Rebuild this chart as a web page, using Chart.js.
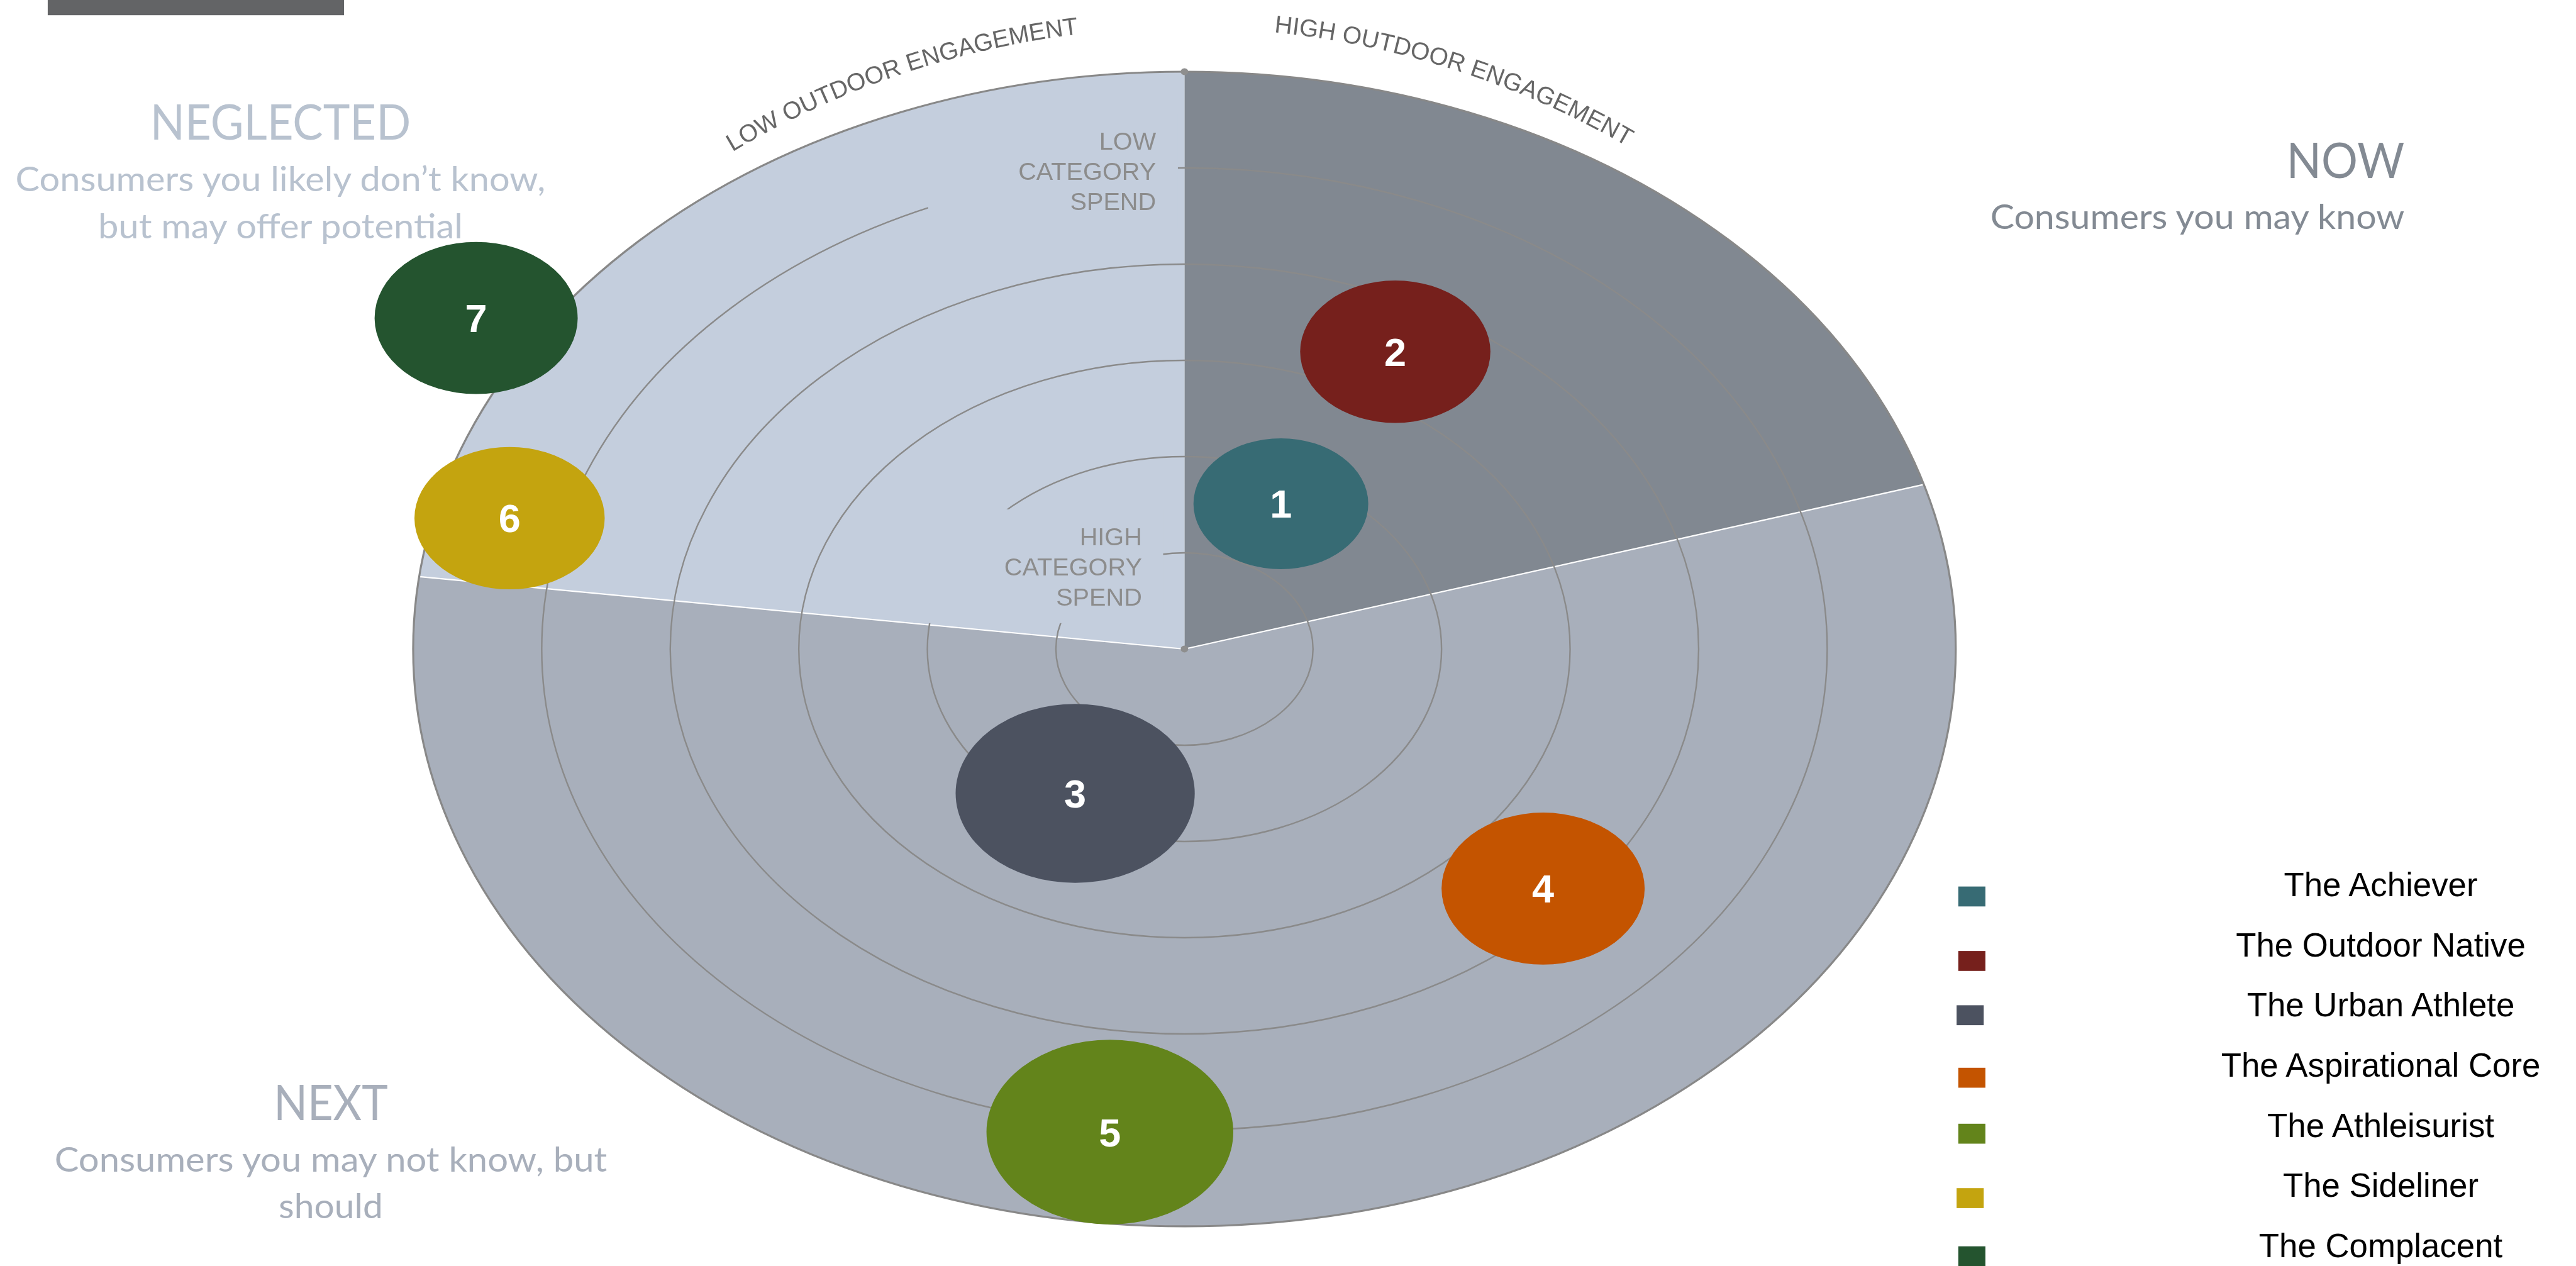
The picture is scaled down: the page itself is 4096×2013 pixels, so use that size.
<!DOCTYPE html>
<html>
<head>
<meta charset="utf-8">
<script src="https://cdn.jsdelivr.net/npm/chart.js@4.4.1/dist/chart.umd.min.js"></script>
<style>
  html, body { margin: 0; padding: 0; background: #ffffff; overflow: hidden; }
  #wrap { position: relative; width: 4096px; height: 2013px; }
  #c { position: absolute; left: 0; top: 0; }
  #ov { position: absolute; left: 0; top: 0; width: 4096px; height: 2013px; pointer-events: none; }
</style>
</head>
<body>
<div id="wrap">
  <canvas id="c" width="4096" height="2013"></canvas>
  <svg id="ov" xmlns="http://www.w3.org/2000/svg" width="4096" height="2013"></svg>
</div>
<script>
// ---------------- DATA ----------------
const segmentNames   = ['The Achiever', 'The Outdoor Native', 'The Urban Athlete', 'The Aspirational Core', 'The Athleisurist', 'The Sideliner', 'The Complacent'];
const segmentNumbers = ['1', '2', '3', '4', '5', '6', '7'];
const segmentColors  = ['#376b74', '#76201c', '#4c5260', '#c45400', '#63841b', '#c4a40f', '#24542f'];
// position on the target (x: engagement side, y: up = lower category spend), in ring units
const bubbleX = [0.75, 1.64, -0.85, 2.79, -0.58, -5.25, -5.51];
const bubbleY = [1.51, 3.09, -1.50, -2.49, -5.02, 1.36, 3.44];
const bubbleR = [0.68, 0.74, 0.93, 0.79, 0.96, 0.74, 0.79];

// zones of the target, clockwise from 12 o'clock (share of the full turn, %)
const zoneNames  = ['NOW', 'NEXT', 'NEGLECTED'];
const zoneShares = [20.4, 56.6, 23.0];
const zoneColors = ['#818891', '#a8afbb', '#c4cedd'];

const ringLevels = [1, 2, 3, 4, 5];
const ringOuter  = 6;

const engagementLabels = ['LOW OUTDOOR ENGAGEMENT', 'HIGH OUTDOOR ENGAGEMENT'];
const spendLabels = [['LOW', 'CATEGORY', 'SPEND'], ['HIGH', 'CATEGORY', 'SPEND']];

const noteNeglected = ['NEGLECTED', 'Consumers you likely don\u2019t know,', 'but may offer potential'];
const noteNow       = ['NOW', 'Consumers you may know'];
const noteNext      = ['NEXT', 'Consumers you may not know, but', 'should'];

// ---------------- LAYOUT ----------------
const xMin = -9.214, xMax = 10.825, yMin = -6.412, yMax = 6.745;
const NS = 'http://www.w3.org/2000/svg';
const ov = document.getElementById('ov');
function svgEl(tag, attrs, text, parent) {
  const e = document.createElementNS(NS, tag);
  for (const k in attrs) e.setAttribute(k, attrs[k]);
  if (text != null) e.textContent = text;
  (parent || ov).appendChild(e);
  return e;
}

// header bar (cut at top)
svgEl('rect', { x: 75.9, y: 0, width: 471.1, height: 24.2, fill: '#636466' });

// corner notes
function note(lines, color, anchor, x, ys, widths, sizes) {
  lines.forEach((t, i) => {
    svgEl('text', {
      x: x, y: ys[i], 'text-anchor': anchor, fill: color,
      'font-family': 'Lato, "Open Sans", sans-serif', 'font-size': sizes[i],
      textLength: widths[i], lengthAdjust: 'spacingAndGlyphs'
    }, t);
  });
}
note(noteNeglected, '#b8c2cf', 'middle', 446, [222.1, 304.0, 379.0], [414.3, 842.8, 580.1], [77.3, 54.3, 54.3]);
note(noteNow, '#838a93', 'end', 3823.2, [282.7, 364.3], [187.5, 658.5], [77.3, 54.3]);
note(noteNext, '#a8afbb', 'middle', 526, [1781.3, 1863.1, 1936.7], [181.6, 878.6, 165.8], [77.3, 54.3, 54.3]);

// legend
const legendTextX = 3785.5, legendBase0 = 1424.8, legendStep = 95.7;
const legendSquareTop = [1409.6, 1512.1, 1598.4, 1697.8, 1786.8, 1889.2, 1981.7];
const legendSquareX = [3113.8, 3113.8, 3111.1, 3113.8, 3113.8, 3111.1, 3113.8];
segmentNames.forEach((n, i) => {
  svgEl('rect', { x: legendSquareX[i], y: legendSquareTop[i], width: 43.1, height: 31.7, fill: segmentColors[i] });
  svgEl('text', { x: legendTextX, y: legendBase0 + i * legendStep, 'text-anchor': 'middle', fill: '#000',
    'font-family': '"Liberation Sans", Arial, sans-serif', 'font-size': 52.8 }, n);
});

// in-chart text (positioned from the chart scales after layout)
const defs = svgEl('defs', {});
const arcPath = svgEl('path', { id: 'engArc', fill: 'none' }, null, defs);
const engCenterDeg = [-18.78, 17.9];
engagementLabels.forEach((t, i) => {
  const te = svgEl('text', { 'font-family': '"Liberation Sans", Arial, sans-serif', 'font-size': 38.9, fill: '#666666', 'text-anchor': 'middle' });
  svgEl('textPath', { href: '#engArc', startOffset: ((engCenterDeg[i] + 45) / 90 * 100).toFixed(3) + '%' }, t, te);
});
const spendRightX = [-0.221, -0.330];
const spendBaseY = [[5.187, 4.875, 4.561], [1.080, 0.766, 0.451]];
const spendEls = spendLabels.map(lines => lines.map(l => svgEl('text', {
  'text-anchor': 'end', fill: '#8c8c8c', 'font-family': '"Liberation Sans", Arial, sans-serif', 'font-size': 39.7 }, l)));
const numberEls = segmentNumbers.map(t => svgEl('text', {
  'text-anchor': 'middle', fill: '#ffffff', 'font-family': '"Liberation Sans", Arial, sans-serif',
  'font-weight': 'bold', 'font-size': 63 }, t));

// label boxes (cover the rings behind the spend labels), in ring units
const spendBoxes = [
  { x0: -1.994, x1: -0.051, y0: 4.378, y1: 5.560 },
  { x0: -2.109, x1: -0.166, y0: 0.269, y1: 1.452 }
];

function geo(chart) {
  const xs = chart.scales.x, ys = chart.scales.y;
  const cx = xs.getPixelForValue(0), cy = ys.getPixelForValue(0);
  const ux = xs.getPixelForValue(1) - cx, uy = cy - ys.getPixelForValue(1);
  return { xs, ys, cx, cy, ux, uy };
}

const targetPlugin = {
  id: 'target',
  beforeDatasetsDraw(chart) {
    const ctx = chart.ctx, g = geo(chart);
    const rx = ringOuter * g.ux, ry = ringOuter * g.uy;
    const total = zoneShares.reduce((s, v) => s + v, 0);
    ctx.save();
    let a = -Math.PI / 2;
    const bounds = [];
    zoneShares.forEach((v, i) => {
      const b = a + v / total * Math.PI * 2;
      ctx.beginPath();
      ctx.moveTo(g.cx, g.cy);
      ctx.ellipse(g.cx, g.cy, rx, ry, 0, a, b);
      ctx.closePath();
      ctx.fillStyle = zoneColors[i];
      ctx.fill();
      bounds.push(b);
      a = b;
    });
    // white separators around the NEXT zone
    ctx.strokeStyle = '#ffffff';
    ctx.lineWidth = 2.2;
    [bounds[0], bounds[1]].forEach(t => {
      ctx.beginPath();
      ctx.moveTo(g.cx, g.cy);
      ctx.lineTo(g.cx + rx * Math.cos(t), g.cy + ry * Math.sin(t));
      ctx.stroke();
    });
    // rings
    ctx.strokeStyle = '#8a8a8a';
    ctx.lineWidth = 2.4;
    ringLevels.forEach(k => {
      ctx.beginPath();
      ctx.ellipse(g.cx, g.cy, k * g.ux, k * g.uy, 0, 0, Math.PI * 2);
      ctx.stroke();
    });
    // boxes behind the spend labels
    ctx.fillStyle = zoneColors[2];
    spendBoxes.forEach(b => {
      const x0 = g.xs.getPixelForValue(b.x0), x1 = g.xs.getPixelForValue(b.x1);
      const y0 = g.ys.getPixelForValue(b.y1), y1 = g.ys.getPixelForValue(b.y0);
      ctx.fillRect(x0, y0, x1 - x0, y1 - y0);
    });
    // outer edge
    ctx.strokeStyle = '#888888';
    ctx.lineWidth = 3.2;
    ctx.beginPath();
    ctx.ellipse(g.cx, g.cy, rx, ry, 0, 0, Math.PI * 2);
    ctx.stroke();
    // axis end dots
    ctx.fillStyle = '#8e8e8e';
    [[g.cx, g.cy], [g.cx, g.cy - ry]].forEach(p => {
      ctx.beginPath();
      ctx.ellipse(p[0], p[1], 6, 5.5, 0, 0, Math.PI * 2);
      ctx.fill();
    });
    ctx.restore();
  },
  afterDatasetsDraw(chart) {
    const ctx = chart.ctx, g = geo(chart);
    const ds = chart.data.datasets[0];
    const meta = chart.getDatasetMeta(0);
    ctx.save();
    meta.data.forEach((el, i) => {
      const r = ds.data[i].r;
      ctx.beginPath();
      ctx.ellipse(el.x, el.y, r * g.ux, r * g.uy, 0, 0, Math.PI * 2);
      ctx.fillStyle = ds.backgroundColor[i];
      ctx.fill();
    });
    ctx.restore();
  },
  afterDraw(chart) {
    const g = geo(chart);
    const meta = chart.getDatasetMeta(0);
    meta.data.forEach((el, i) => {
      numberEls[i].setAttribute('x', el.x.toFixed(1));
      numberEls[i].setAttribute('y', (el.y + 22.5).toFixed(1));
    });
    spendEls.forEach((lines, j) => lines.forEach((te, k) => {
      te.setAttribute('x', g.xs.getPixelForValue(spendRightX[j]).toFixed(1));
      te.setAttribute('y', g.ys.getPixelForValue(spendBaseY[j][k]).toFixed(1));
    }));
    // arc for engagement labels
    const acx = g.cx, acy = g.ys.getPixelForValue(-2.744), R = 6.887 * g.ux;
    const s = Math.PI / 4;
    const p0 = [acx - R * Math.sin(s), acy - R * Math.cos(s)];
    const p1 = [acx + R * Math.sin(s), acy - R * Math.cos(s)];
    arcPath.setAttribute('d', `M ${p0[0].toFixed(1)} ${p0[1].toFixed(1)} A ${R.toFixed(1)} ${R.toFixed(1)} 0 0 1 ${p1[0].toFixed(1)} ${p1[1].toFixed(1)}`);
  }
};

new Chart(document.getElementById('c'), {
  type: 'bubble',
  data: {
    datasets: [{
      label: 'Segments',
      data: segmentNames.map((n, i) => ({ x: bubbleX[i], y: bubbleY[i], r: bubbleR[i] })),
      backgroundColor: segmentColors,
      borderWidth: 0,
      hoverRadius: 0
    }]
  },
  options: {
    responsive: false,
    animation: false,
    events: [],
    layout: { padding: 0, autoPadding: false },
    plugins: { legend: { display: false }, tooltip: { enabled: false } },
    scales: {
      x: { type: 'linear', display: false, min: xMin, max: xMax },
      y: { type: 'linear', display: false, min: yMin, max: yMax }
    }
  },
  plugins: [targetPlugin]
});
</script>
</body>
</html>
